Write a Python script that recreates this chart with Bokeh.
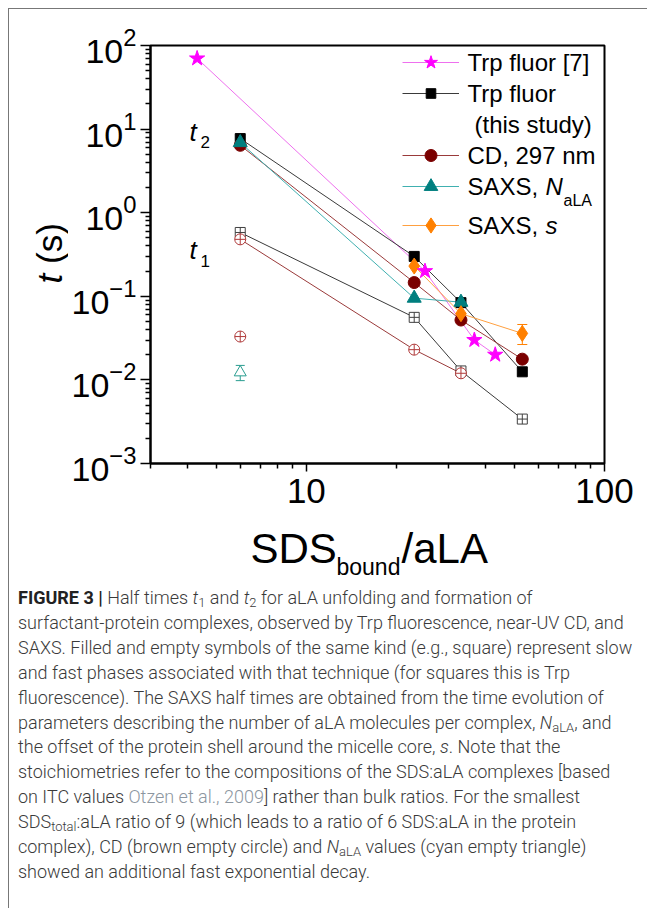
import math
from bokeh.plotting import figure
from bokeh.models import (Label, Legend, LegendItem, FixedTicker, NumeralTickFormatter,
                          Div, Whisker, ColumnDataSource, TeeHead)
from bokeh.layouts import column, row
from bokeh.embed import file_html
from bokeh.resources import INLINE

# ---------------- data ----------------
trp7_x = [4.3, 25, 36.6, 43]
trp7_y = [70, 0.20, 0.030, 0.020]

trp_slow_x = [6, 23, 33, 53]
trp_slow_y = [7.7, 0.30, 0.084, 0.0125]
trp_fast_x = [6, 23, 33, 53]
trp_fast_y = [0.58, 0.056, 0.0128, 0.0034]

cd_slow_x = [6, 23, 33, 53]
cd_slow_y = [6.4, 0.146, 0.052, 0.0177]
cd_fast_x = [6, 23, 33]
cd_fast_y = [0.48, 0.023, 0.012]
cd_extra_x = [6]
cd_extra_y = [0.033]

n_slow_x = [6, 23, 33]
n_slow_y = [6.9, 0.095, 0.085]
n_extra_x = [6]
n_extra_y = [0.0123]
n_extra_lo = [0.0098]
n_extra_hi = [0.0149]

s_x = [23, 33, 53]
s_y = [0.23, 0.062, 0.036]
s_err_x = [53]
s_err_lo = [0.0265]
s_err_hi = [0.046]

x_major = [10, 100]
x_minor = [3, 4, 5, 6, 7, 8, 9, 20, 30, 40, 50, 60, 70, 80, 90]
y_major = [1e-3, 1e-2, 1e-1, 1, 10, 100]
y_minor = [m * 10.0 ** e for e in range(-3, 2) for m in range(2, 10)]

# ---------------- colours ----------------
MAG, MAG_L = "#FF00FF", "#EE70EE"
BLK, BLK_L = "#000000", "#3a3a3a"
CDR, CDR_L = "#7A0000", "#9A3A3A"
TEAL, TEAL_L = "#007F7F", "#40B0B0"
ORG, ORG_L = "#FF8000", "#FFA040"
OPEN_SQ = "#404040"
OPEN_CI = "#B03A3A"
OPEN_TR = "#2A9D90"

FONT = "Liberation Sans"

# ---------------- layout geometry (page pixels) ----------------
OX, OY = 9, 9            # content origin (8px margin + 1px border)
W = 638                  # content width
W1 = 59                  # width of the strip holding the y title
H1 = 513                 # height of the plot row
H2 = 64                  # height of the strip holding the x title
FL, FT, FR, FB = 148, 45, 604, 463   # frame edges on the page

p = figure(width=W - W1, height=H1, x_axis_type="log", y_axis_type="log",
           x_range=(3, 100), y_range=(1e-3, 1e2),
           output_backend="svg", toolbar_location=None,
           min_border_left=FL - OX - W1, min_border_right=OX + W - FR,
           min_border_top=FT - OY, min_border_bottom=OY + H1 - FB)
p.xgrid.visible = False
p.ygrid.visible = False
p.outline_line_color = "black"
p.outline_line_width = 2

for ax in (p.xaxis[0], p.yaxis[0]):
    ax.axis_line_width = 2
    ax.major_tick_line_width = 1.5
    ax.minor_tick_line_width = 1.5
    ax.major_tick_in = 0
    ax.minor_tick_in = 0
    ax.major_label_text_font = FONT
    ax.major_label_text_color = "black"
p.xaxis.major_label_text_font_size = "35px"
p.yaxis.major_label_text_font_size = "34px"
p.xaxis.major_tick_out = 8
p.xaxis.minor_tick_out = 5
p.yaxis.major_tick_out = 10
p.yaxis.minor_tick_out = 5
p.xaxis.major_label_standoff = 7
p.yaxis.major_label_standoff = 4
p.xaxis.ticker = FixedTicker(ticks=x_major, minor_ticks=x_minor)
p.yaxis.ticker = FixedTicker(ticks=y_major, minor_ticks=y_minor)
p.xaxis.formatter = NumeralTickFormatter(format="0")

# ---------------- series ----------------
# fast (t1) phases, open symbols
p.line(trp_fast_x, trp_fast_y, line_color=BLK_L, line_width=1)
p.line(cd_fast_x, cd_fast_y, line_color=CDR_L, line_width=1)
p.scatter(trp_fast_x, trp_fast_y, marker="square_cross", size=10,
          fill_color="white", line_color=OPEN_SQ, line_width=1)
p.scatter(cd_fast_x, cd_fast_y, marker="circle_cross", size=11,
          fill_color="white", line_color=OPEN_CI, line_width=1)
p.scatter(cd_extra_x, cd_extra_y, marker="circle_cross", size=11,
          fill_color="white", line_color=OPEN_CI, line_width=1)
src_n = ColumnDataSource(dict(x=n_extra_x, lo=n_extra_lo, hi=n_extra_hi))
p.add_layout(Whisker(source=src_n, base="x", lower="lo", upper="hi", dimension="height",
                     line_color=OPEN_TR, line_width=1,
                     upper_head=TeeHead(size=9, line_color=OPEN_TR, line_width=1),
                     lower_head=TeeHead(size=9, line_color=OPEN_TR, line_width=1)))
p.scatter(n_extra_x, n_extra_y, marker="triangle", size=12,
          fill_color="white", line_color=OPEN_TR, line_width=1)

# slow (t2) phases and literature data
l_t7 = p.line(trp7_x, trp7_y, line_color=MAG_L, line_width=1)
l_ts = p.line(trp_slow_x, trp_slow_y, line_color=BLK_L, line_width=1)
l_cs = p.line(cd_slow_x, cd_slow_y, line_color=CDR_L, line_width=1)
l_ns = p.line(n_slow_x, n_slow_y, line_color=TEAL_L, line_width=1)
l_s = p.line(s_x, s_y, line_color=ORG_L, line_width=1)
src_s = ColumnDataSource(dict(x=s_err_x, lo=s_err_lo, hi=s_err_hi))
p.add_layout(Whisker(source=src_s, base="x", lower="lo", upper="hi", dimension="height",
                     line_color=ORG, line_width=1,
                     upper_head=TeeHead(size=10, line_color=ORG, line_width=1),
                     lower_head=TeeHead(size=10, line_color=ORG, line_width=1)))

m_ts = p.scatter(trp_slow_x, trp_slow_y, marker="square", size=10,
                 fill_color=BLK, line_color=BLK)
m_cs = p.scatter(cd_slow_x, cd_slow_y, marker="circle", size=12,
                 fill_color=CDR, line_color=CDR)
m_ns = p.scatter(n_slow_x, n_slow_y, marker="triangle", size=14,
                 fill_color=TEAL, line_color=TEAL)
m_s = p.scatter(s_x, s_y, marker="diamond", size=16,
                fill_color=ORG, line_color=ORG)
m_t7 = p.scatter(trp7_x, trp7_y, marker="star", size=16,
                 fill_color=MAG, line_color=MAG)


# ---------------- legend (glyphs) ----------------
def add_leg(renderers, yc, gh):
    leg = Legend(items=[LegendItem(label=" ", renderers=renderers)],
                 location=(400 - FL, FB - yc - gh / 2),
                 glyph_width=57, glyph_height=gh, label_text_font_size="1px",
                 label_height=0, label_width=0, label_standoff=0,
                 padding=0, margin=0, spacing=0,
                 border_line_color=None, background_fill_alpha=0)
    p.add_layout(leg)


add_leg([l_t7, m_t7], 62, 34)
add_leg([l_ts, m_ts], 93, 24)
add_leg([l_cs, m_cs], 155, 30)
add_leg([l_ns, m_ns], 186, 34)
add_leg([l_s, m_s], 225, 38)


def lbl(fig, x0, y0, xp, yp, text, size, style="normal", angle=0.0, color="black"):
    """Text whose em-box centre line passes through page point (xp, yp).
    x0, y0: page position of the figure frame's left / bottom edge."""
    fig.add_layout(Label(x=xp - x0, y=y0 - yp, x_units="screen", y_units="screen",
                         text=text, text_font=FONT, text_font_size=f"{size}px",
                         text_font_style=style, text_baseline="middle",
                         text_align="left", angle=angle, text_color=color))


# legend texts
lbl(p, FL, FB, 465, 62, "Trp fluor [7]", 24)
lbl(p, FL, FB, 465, 93, "Trp fluor", 24)
lbl(p, FL, FB, 472, 124, "(this study)", 24)
lbl(p, FL, FB, 465, 155, "CD, 297 nm", 24)
lbl(p, FL, FB, 465, 186, "SAXS,", 24)
lbl(p, FL, FB, 543, 186, "N", 24, "italic")
lbl(p, FL, FB, 561, 200, "aLA", 16)
lbl(p, FL, FB, 465, 225, "SAXS,", 24)
lbl(p, FL, FB, 543, 225, "s", 24, "italic")

# t2 / t1 annotations
lbl(p, FL, FB, 187, 131, "t", 26, "italic")
lbl(p, FL, FB, 198, 141, "2", 17)
lbl(p, FL, FB, 187, 249, "t", 26, "italic")
lbl(p, FL, FB, 198, 260, "1", 17)

# ---------------- y title strip (frame matched to the plot's frame) ----------------
yfig = figure(width=W1, height=H1, x_range=(0, 1), y_range=(0, 1),
              output_backend="svg", toolbar_location=None,
              x_axis_location=None, y_axis_location=None,
              min_border_left=0, min_border_right=0,
              min_border_top=FT - OY, min_border_bottom=OY + H1 - FB)
yfig.xgrid.visible = False
yfig.ygrid.visible = False
yfig.outline_line_color = None
lbl(yfig, OX, FB, 49, 283, "t", 35, "italic", math.pi / 2)
lbl(yfig, OX, FB, 49, 263.5, "(s)", 35, "normal", math.pi / 2)

# ---------------- x title strip ----------------
xfig = figure(width=W, height=H2, x_range=(0, 1), y_range=(0, 1),
              output_backend="svg", toolbar_location=None,
              x_axis_location=None, y_axis_location=None, min_border=0)
xfig.xgrid.visible = False
xfig.ygrid.visible = False
xfig.outline_line_color = None
X_BOT = OY + H1 + H2
lbl(xfig, OX, X_BOT, 250, 547.5, "SDS", 42)
lbl(xfig, OX, X_BOT, 336, 566, "bound", 23)
lbl(xfig, OX, X_BOT, 401, 547.5, "/aLA", 42)

# ---------------- caption ----------------
sub = "<sub style='font-size:0.72em;line-height:0;vertical-align:-0.25em'>"
cap_lines = [
    "<b style='color:#222;font-weight:700'>FIGURE 3 |</b> Half times <i>t</i>" + sub + "1</sub> and <i>t</i>"
    + sub + "2</sub> for aLA unfolding and formation of",
    "surfactant-protein complexes, observed by Trp fluorescence, near-UV CD, and",
    "SAXS. Filled and empty symbols of the same kind (e.g., square) represent slow",
    "and fast phases associated with that technique (for squares this is Trp",
    "fluorescence). The SAXS half times are obtained from the time evolution of",
    "parameters describing the number of aLA molecules per complex, <i>N</i>" + sub + "aLA</sub>, and",
    "the offset of the protein shell around the micelle core, <i>s</i>. Note that the",
    "stoichiometries refer to the compositions of the SDS:aLA complexes [based",
    "on ITC values <span style='color:#8c96a0'>Otzen et al., 2009</span>] rather than bulk ratios. For the smallest",
    "SDS" + sub + "total</sub>:aLA ratio of 9 (which leads to a ratio of 6 SDS:aLA in the protein",
    "complex), CD (brown empty circle) and <i>N</i>" + sub + "aLA</sub> values (cyan empty triangle)",
    "showed an additional fast exponential decay.",
]
cap_html = ("<div style=\"font-family:'Roboto',sans-serif;font-weight:300;font-size:18px;"
            "line-height:24.9px;color:#3a3a3a;white-space:nowrap;padding-left:9px;\">"
            + "<br>".join(cap_lines) + "</div>")
cap = Div(text=cap_html, width=W, height=322, margin=0, styles={"overflow": "hidden"})

layout = column(row(yfig, p, spacing=0), xfig, cap, spacing=0, margin=(8, 0, 0, 8),
                styles={"border-top": "1px solid #777", "border-left": "1px solid #777"})

open("out.html", "w").write(file_html(layout, INLINE))
